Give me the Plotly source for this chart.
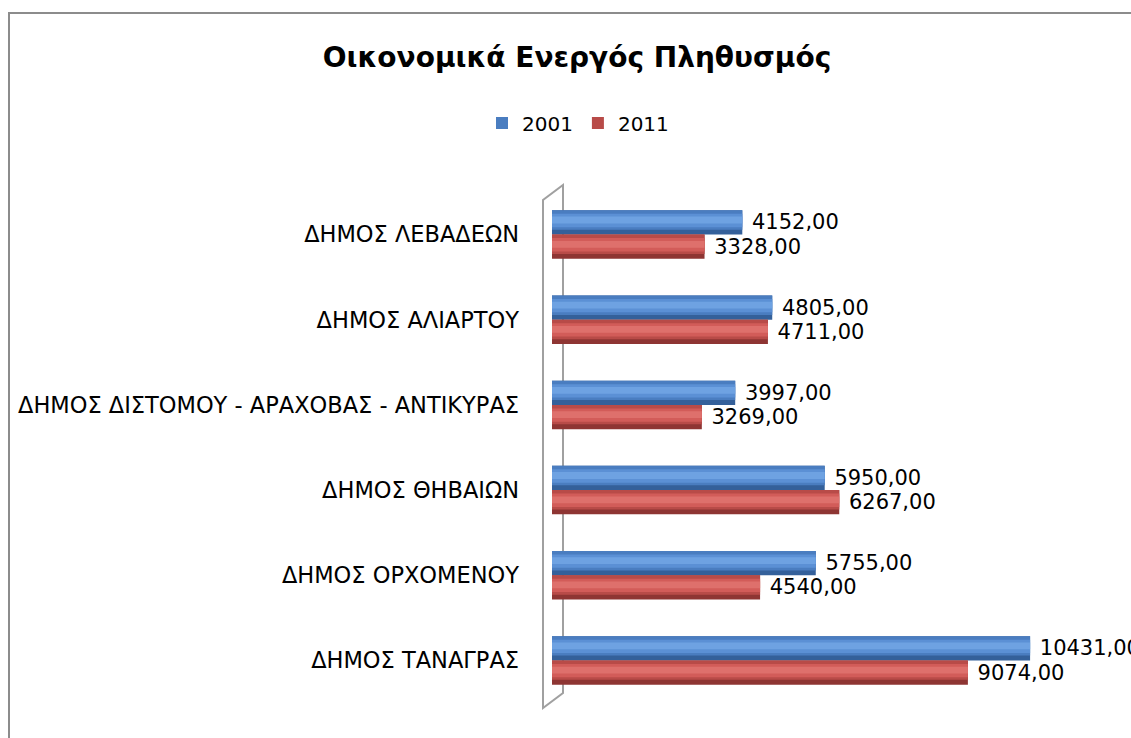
import plotly.graph_objects as go

categories = [
    "ΔΗΜΟΣ ΛΕΒΑΔΕΩΝ",
    "ΔΗΜΟΣ ΑΛΙΑΡΤΟΥ",
    "ΔΗΜΟΣ ΔΙΣΤΟΜΟΥ - ΑΡΑΧΟΒΑΣ - ΑΝΤΙΚΥΡΑΣ",
    "ΔΗΜΟΣ ΘΗΒΑΙΩΝ",
    "ΔΗΜΟΣ ΟΡΧΟΜΕΝΟΥ",
    "ΔΗΜΟΣ ΤΑΝΑΓΡΑΣ",
]
values_2001 = [4152, 4805, 3997, 5950, 5755, 10431]
values_2011 = [3328, 4711, 3269, 6267, 4540, 9074]
series_names = ["2001", "2011"]

W, H = 1131, 738
FONT = "DejaVu Sans"


def px_x(p):
    return p / W


def px_y(p):
    return 1 - p / H


fig = go.Figure()

bar_w = 0.285
series = [
    (series_names[0], values_2001, -bar_w, ["#34609A", "#4A7DC0", "#5B90D5", "#6EA2E2"]),
    (series_names[1], values_2011, 0.0, ["#8E3533", "#B84B48", "#D25C59", "#DE706C"]),
]

for name, vals, off, cols in series:
    # base (dark edge) layer with label
    fig.add_trace(go.Bar(
        y=categories, x=vals, orientation="h", name=name,
        marker=dict(color=cols[0], line=dict(width=0)),
        width=bar_w, offset=off, showlegend=False, legendgroup=name,
        texttemplate="\u00a0%{x:.2f}", textposition="outside",
        textfont=dict(family=FONT, size=21, color="#000000"),
        cliponaxis=False, hoverinfo="skip",
    ))
    # gradient layers to mimic cylinder shading
    layers = [(0.80, cols[1], 0.40, True), (0.55, cols[2], 0.42, False), (0.28, cols[3], 0.40, False)]
    for frac, col, pos, leg in layers:
        w = bar_w * frac
        o = off + bar_w * pos - w / 2
        fig.add_trace(go.Bar(
            y=categories, x=vals, orientation="h", name=name,
            marker=dict(color=col, line=dict(width=0)),
            width=w, offset=o, showlegend=leg, legendgroup=name,
            hoverinfo="skip",
        ))

# 3D wall outline and chart border
shapes = [
    dict(type="rect", xref="paper", yref="paper",
         x0=px_x(9), y0=px_y(760), x1=px_x(1150), y1=px_y(13),
         line=dict(color="#8C8C8C", width=2), layer="below"),
    dict(type="path", xref="paper", yref="paper",
         path=(f"M {px_x(543)},{px_y(708)} L {px_x(543)},{px_y(200)} "
               f"L {px_x(563)},{px_y(185)} L {px_x(563)},{px_y(693)} Z"),
         line=dict(color="#A0A0A0", width=2), layer="below"),
]

fig.update_layout(
    width=W, height=H,
    margin=dict(l=0, r=0, t=0, b=0),
    paper_bgcolor="white", plot_bgcolor="rgba(0,0,0,0)",
    barmode="overlay",
    separators=",.",
    font=dict(family=FONT, color="#000000"),
    title=dict(text="<b>Οικονομικά Ενεργός Πληθυσμός</b>",
               x=px_x(577), y=px_y(57), xanchor="center", yanchor="middle",
               font=dict(family=FONT, size=28, color="#000000")),
    legend=dict(orientation="h", x=px_x(578), y=px_y(123), xanchor="center", yanchor="middle",
                font=dict(family=FONT, size=20), itemwidth=30, traceorder="normal"),
    shapes=shapes,
    xaxis=dict(domain=[px_x(552), px_x(1102)], range=[0, 12000], visible=False, automargin=False),
    yaxis=dict(domain=[px_y(703), px_y(192)], autorange="reversed",
               showline=False, showgrid=False, zeroline=False, ticks="",
               ticklabelstandoff=32, automargin=False,
               tickfont=dict(family=FONT, size=22.5, color="#000000")),
)

fig.write_html(
    "out.html",
    config={"displayModeBar": False},
    post_script="document.body.style.margin='0';document.body.style.padding='0';",
)
